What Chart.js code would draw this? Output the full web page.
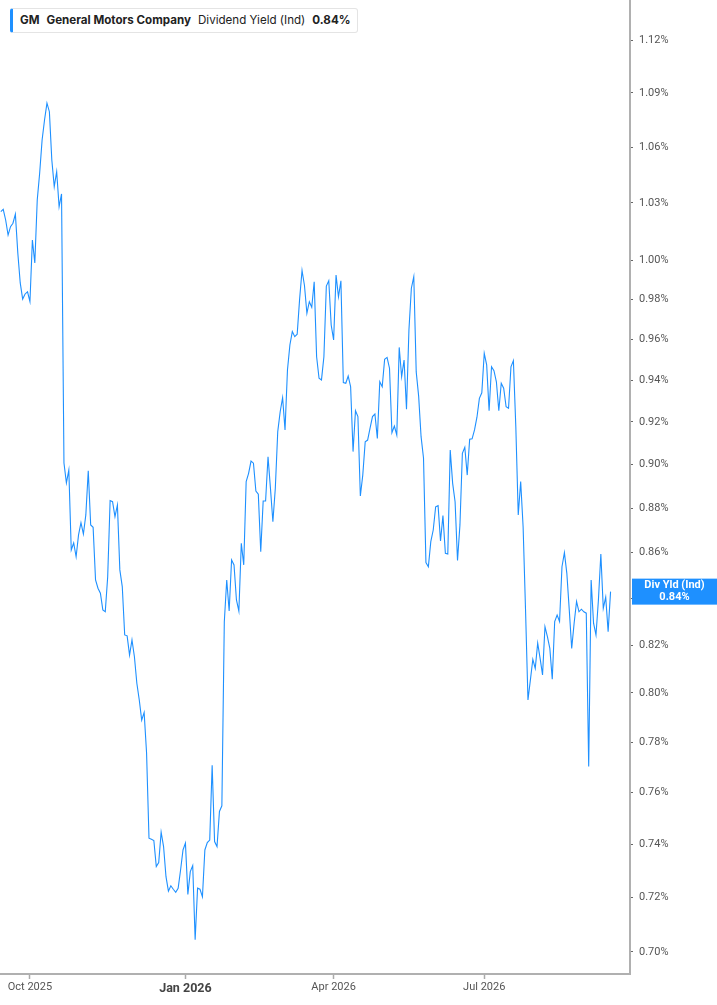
<!DOCTYPE html>
<html>
<head>
<meta charset="utf-8">
<title>GM Dividend Yield (Ind)</title>
<script src="https://cdn.jsdelivr.net/npm/chart.js@4.4.1/dist/chart.umd.min.js"></script>
<style>
  html, body { margin: 0; padding: 0; background: #fff; }
  #wrap { position: relative; width: 717px; height: 1005px; }
  #legend {
    position: absolute; left: 10px; top: 8px; height: 25px;
    box-sizing: border-box; padding: 0 6px 0 7px;
    border: 1px solid #e4e4e4; border-left: 3px solid #1e90ff; border-radius: 3px;
    background: #fff; font-family: Inter, "Noto Sans", sans-serif; font-size: 11.6px;
    line-height: 23px; color: #222; white-space: nowrap;
  }
  #legend b { font-weight: 700; }
  #legend span { margin-right: 7px; }
</style>
</head>
<body>
<div id="wrap">
  <canvas id="chart"></canvas>
  <div id="legend"><span><b>GM</b></span><span><b>General Motors Company</b></span><span>Dividend Yield (Ind)</span><b>0.84%</b></div>
</div>
<script>
// valores (rendimiento de dividendo en %, un punto por sesion)
const yieldValues = [
  1.0253, 1.0265, 1.0209, 1.0130, 1.0174, 1.0192, 1.0240, 1.0037, 0.9883, 0.9801,
  0.9827, 0.9838, 0.9788, 1.0104, 0.9985, 1.0315, 1.0459, 1.0639, 1.0749, 1.0843,
  1.0795, 1.0530, 1.0386, 1.0466, 1.0279, 1.0347, 0.9007, 0.8915, 0.8974, 0.8612,
  0.8643, 0.8582, 0.8679, 0.8734, 0.8683, 0.8769, 0.8971, 0.8724, 0.8713, 0.8480,
  0.8444, 0.8422, 0.8350, 0.8342, 0.8494, 0.8834, 0.8829, 0.8761, 0.8814, 0.8524,
  0.8451, 0.8243, 0.8239, 0.8158, 0.8222, 0.8151, 0.8040, 0.7971, 0.7889, 0.7920,
  0.7757, 0.7423, 0.7419, 0.7414, 0.7315, 0.7330, 0.7446, 0.7391, 0.7277, 0.7223,
  0.7243, 0.7230, 0.7219, 0.7234, 0.7302, 0.7378, 0.7404, 0.7211, 0.7296, 0.7319,
  0.7044, 0.7234, 0.7230, 0.7202, 0.7378, 0.7406, 0.7416, 0.7707, 0.7410, 0.7391,
  0.7526, 0.7548, 0.8298, 0.8480, 0.8345, 0.8568, 0.8546, 0.8393, 0.8345, 0.8642,
  0.8546, 0.8921, 0.8959, 0.9016, 0.9006, 0.8878, 0.8863, 0.8604, 0.8832, 0.8832,
  0.9036, 0.8890, 0.8738, 0.8890, 0.9154, 0.9248, 0.9315, 0.9162, 0.9449, 0.9572,
  0.9638, 0.9613, 0.9625, 0.9801, 0.9947, 0.9870, 0.9730, 0.9788, 0.9760, 0.9889,
  0.9514, 0.9409, 0.9401, 0.9514, 0.9867, 0.9894, 0.9671, 0.9597, 0.9923, 0.9813,
  0.9894, 0.9388, 0.9385, 0.9420, 0.9368, 0.9060, 0.9253, 0.9225, 0.8855, 0.8951,
  0.9106, 0.9114, 0.9170, 0.9225, 0.9237, 0.9122, 0.9392, 0.9368, 0.9502, 0.9511,
  0.9458, 0.9149, 0.9180, 0.9138, 0.9560, 0.9417, 0.9498, 0.9260, 0.9646, 0.9856,
  0.9915, 0.9440, 0.9323, 0.9130, 0.9030, 0.8556, 0.8538, 0.8649, 0.8701, 0.8806,
  0.8811, 0.8652, 0.8766, 0.8597, 0.8594, 0.9067, 0.8913, 0.8829, 0.8565, 0.8724,
  0.9052, 0.9080, 0.8951, 0.9118, 0.9120, 0.9162, 0.9222, 0.9312, 0.9339, 0.9531,
  0.9474, 0.9253, 0.9465, 0.9446, 0.9392, 0.9253, 0.9385, 0.9361, 0.9272, 0.9265,
  0.9465, 0.9495, 0.9177, 0.8769, 0.8921, 0.8716, 0.8350, 0.7971, 0.8054, 0.8140,
  0.8102, 0.8208, 0.8144, 0.8075, 0.8278, 0.8236, 0.8186, 0.8057, 0.8300, 0.8328,
  0.8300, 0.8538, 0.8600, 0.8509, 0.8350, 0.8186, 0.8293, 0.8386, 0.8342, 0.8353,
  0.8342, 0.8336, 0.7702, 0.8480, 0.8293, 0.8243, 0.8393, 0.8594, 0.8357, 0.8405,
  0.8257, 0.8429
];

// etiquetas del eje x (indice de sesion donde empieza cada trimestre)
const monthTickIndex = [12, 76, 137, 199];
const monthTickLabels = ['Oct 2025', 'Jan 2026', 'Apr 2026', 'Jul 2026'];
const yearTick = 'Jan 2026';

// marcas del eje y (%)
const yTicks = [0.70, 0.72, 0.74, 0.76, 0.78, 0.80, 0.82, 0.84, 0.86, 0.88,
  0.90, 0.92, 0.94, 0.96, 0.98, 1.00, 1.03, 1.06, 1.09, 1.12];

const lineColor = '#1e90ff';
const tagTitle = 'Div Yld (Ind)';
const axisFont = 'Roboto, "Liberation Sans", sans-serif';

function isYearTick(c) {
  return !!(c && c.tick && monthTickLabels[monthTickIndex.indexOf(c.tick.value)] === yearTick);
}

// etiqueta azul con el ultimo valor sobre el eje derecho
const lastValueTag = {
  id: 'lastValueTag',
  afterDraw(chart) {
    const ctx = chart.ctx;
    const yScale = chart.scales.y;
    const last = yieldValues[yieldValues.length - 1];
    const y = yScale.getPixelForValue(last);
    const left = yScale.left + 2;
    const w = chart.width - left;
    ctx.save();
    ctx.fillStyle = lineColor;
    ctx.fillRect(left, y - 13, w, 26);
    ctx.fillStyle = '#fff';
    ctx.textAlign = 'center';
    ctx.textBaseline = 'middle';
    ctx.font = 'bold 11px ' + axisFont;
    ctx.fillText(tagTitle, left + w / 2, y - 6);
    ctx.fillText(last.toFixed(2) + '%', left + w / 2, y + 6);
    ctx.restore();
  }
};

const ctx = document.getElementById('chart').getContext('2d');
new Chart(ctx, {
  type: 'line',
  data: {
    datasets: [{
      label: 'Dividend Yield (Ind)',
      data: yieldValues.map((v, i) => ({ x: i, y: v })),
      borderColor: lineColor,
      borderWidth: 1.1,
      pointRadius: 0,
      tension: 0,
      fill: false
    }]
  },
  options: {
    responsive: true,
    maintainAspectRatio: false,
    animation: false,
    layout: { padding: 0 },
    plugins: {
      legend: { display: false },
      tooltip: { enabled: false }
    },
    scales: {
      x: {
        type: 'linear',
        position: 'bottom',
        min: -0.33,
        max: 259,
        afterBuildTicks: (scale) => {
          scale.ticks = monthTickIndex.map(v => ({ value: v }));
        },
        afterFit: (scale) => {
          scale.height = 31;
          scale.paddingLeft = 0;
          scale.paddingRight = 0;
        },
        grid: { drawOnChartArea: false, tickLength: 5, color: '#aaa', tickWidth: 1.5 },
        border: { display: true, color: '#b0b0b0', width: 2 },
        ticks: {
          autoSkip: false,
          maxRotation: 0,
          padding: 2,
          color: (c) => isYearTick(c) ? '#444' : '#555',
          font: (c) => isYearTick(c)
            ? { family: axisFont, size: 12.5, weight: 'bold' }
            : { family: axisFont, size: 11 },
          callback: (value) => monthTickLabels[monthTickIndex.indexOf(value)] || ''
        }
      },
      y: {
        type: 'logarithmic',
        position: 'right',
        bounds: 'data', // si no, chart.js redondea el minimo a 0.69
        min: 0.6921,
        max: 1.1435,
        afterBuildTicks: (scale) => {
          scale.ticks = yTicks.map(v => ({ value: v }));
        },
        afterFit: (scale) => {
          scale.width = 87;
          // sin margen extra: el area de dibujo llega al borde superior
          scale.paddingTop = 0;
          scale.paddingBottom = 0;
        },
        grid: { drawOnChartArea: false, tickLength: 3, color: '#666' },
        border: { display: true, color: '#b0b0b0', width: 2 },
        ticks: {
          autoSkip: false,
          padding: 6,
          color: '#555',
          font: { family: axisFont, size: 11 },
          callback: (value) => Number(value).toFixed(2) + '%'
        }
      }
    }
  },
  plugins: [lastValueTag]
});
</script>
</body>
</html>
